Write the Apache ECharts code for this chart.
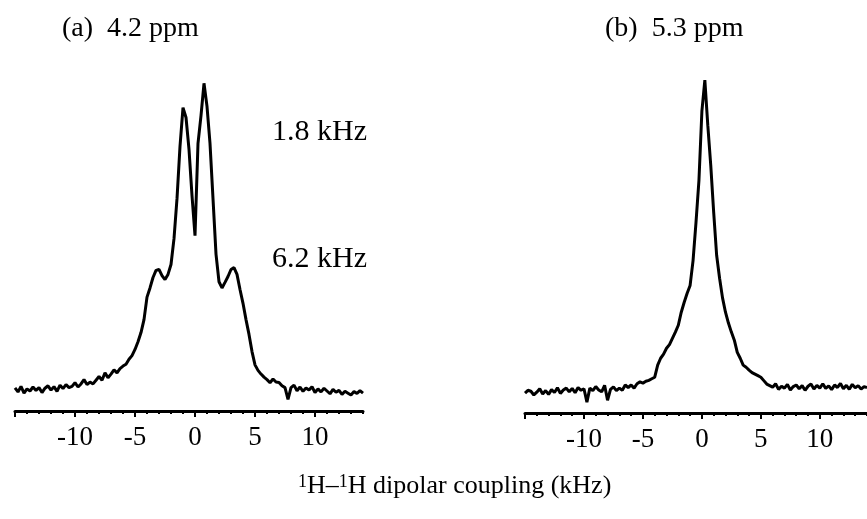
<!DOCTYPE html>
<html>
<head>
<meta charset="utf-8">
<script src="https://cdn.jsdelivr.net/npm/echarts@6/dist/echarts.min.js"></script>
<style>
  html, body { margin: 0; padding: 0; background: #fff; }
  #chart { width: 867px; height: 519px; }
</style>
</head>
<body>
<div id="chart"></div>
<script>
// 1H-1H dipolar coupling spectra, frequency in kHz, intensity normalised to 100
const freqStart = -15;      // kHz, first sample
const freqStep = 0.25;      // kHz between samples

// (a) 4.2 ppm: doublet (1.8 kHz) on top of a broad doublet (6.2 kHz)
const spectrumA = [
  0.5, -0.8, 1.0, -1.2,
  0.2, -0.5, 0.8, -0.3,
  0.6, -1.0, 0.4, 1.2,
  -0.2, 0.9, -0.6, 1.4,
  0.3, 1.6, 0.6, 1.0,
  2.2, 0.8, 1.8, 3.2,
  1.6, 2.4, 1.8, 3.0,
  4.2, 3.0, 5.4, 3.8,
  5.0, 6.4, 5.4, 6.8,
  7.6, 8.2, 9.8, 11.0,
  13.0, 15.5, 18.5, 22.7,
  30.0, 33.0, 36.4, 38.7,
  39.0, 37.0, 35.7, 37.4,
  40.6, 49.0, 62.0, 79.0,
  91.6, 88.4, 78.0, 63.0,
  50.0, 80.0, 89.0, 99.5,
  92.0, 80.0, 62.0, 44.0,
  35.0, 33.0, 34.8, 36.7,
  39.0, 39.6, 37.4, 32.5,
  28.0, 22.7, 17.9, 12.3,
  8.0, 6.2, 5.0, 4.0,
  3.2, 2.2, 3.4, 2.4,
  2.3, 1.2, 0.6, -3.2,
  0.6, 1.4, -0.4, 0.8,
  -0.6, 0.5, -0.2, 0.9,
  -1.0, 0.2, -0.8, 0.4,
  -0.5, -1.4, 0.0, -0.9,
  -0.3, -1.6, -0.6, -1.2,
  -1.8, -0.7, -1.3, -0.4,
  -1.2
];

// (b) 5.3 ppm: single narrow line
const spectrumB = [
  -0.6, 0.3, 0.0, -1.2,
  -0.3, 0.8, -0.9, 0.2,
  -1.0, 0.5, -0.4, 1.1,
  -0.7, 0.4, 1.0, -0.2,
  0.9, -0.5, 1.2, 0.3,
  0.8, -3.5, 1.0, 0.2,
  1.5, 0.4, -0.2, 1.9,
  -2.9, 0.6, 1.4, 0.2,
  1.0, 0.3, 2.0, 1.2,
  2.0, 1.0, 2.4, 3.0,
  2.6, 3.2, 3.5, 4.0,
  4.5, 8.4, 10.6, 11.9,
  13.8, 15.0, 17.0, 19.0,
  21.2, 25.4, 28.6, 31.5,
  34.0, 42.0, 54.3, 67.8,
  90.0, 100.0, 85.5, 72.7,
  57.5, 43.7, 36.3, 30.0,
  25.4, 21.9, 19.0, 16.4,
  12.5, 10.6, 8.4, 7.7,
  6.8, 6.0, 5.5, 5.0,
  4.5, 3.4, 2.3, 1.8,
  1.3, 2.4, 0.6, 1.6,
  1.0, 2.2, 0.4, 1.5,
  2.0, 0.8, 1.8, 0.3,
  1.6, 2.3, 0.7, 1.9,
  1.0, 2.4, 0.9, 1.7,
  0.5, 2.0, 1.2, 2.5,
  0.8, 1.9, 0.6, 2.2,
  1.1, 1.8, 0.7, 1.5,
  1.2
];

const tickLabels = [-10, -5, 0, 5, 10];
const majorTicks = [-15, -10, -5, 0, 5, 10];
const minorTicks = [-15, -14, -13, -12, -11, -10, -9, -8, -7, -6, -5, -4, -3, -2, -1,
                    0, 1, 2, 3, 4, 5, 6, 7, 8, 9, 10, 11, 12, 13, 14];
const panelTitles = ['(a)  4.2 ppm', '(b)  5.3 ppm'];
const splittingLabels = ['1.8 kHz', '6.2 kHz'];

const serif = '"Liberation Serif", "Times New Roman", serif';

function toPairs(values) {
  return values.map((v, i) => [freqStart + i * freqStep, v]);
}

function majorAxis(gridIndex) {
  return {
    type: 'value', gridIndex, position: 'bottom', min: -15, max: 14,
    axisLine: { show: true, onZero: false, lineStyle: { color: '#000', width: 3 } },
    axisTick: { show: true, customValues: majorTicks, length: 6, lineStyle: { color: '#000', width: 2 } },
    axisLabel: {
      show: true, customValues: tickLabels, margin: 13,
      color: '#000', fontSize: 27, fontFamily: serif
    },
    splitLine: { show: false }
  };
}

function minorAxis(gridIndex) {
  return {
    type: 'value', gridIndex, position: 'bottom', min: -15, max: 14,
    axisLine: { show: false, onZero: false },
    axisTick: { show: true, customValues: minorTicks, length: 3, lineStyle: { color: '#000', width: 2 } },
    axisLabel: { show: false },
    splitLine: { show: false }
  };
}

function hiddenY(gridIndex) {
  return { type: 'value', gridIndex, min: -7, max: 110, show: false };
}

const lineStyle = { color: '#000', width: 3 };

const option = {
  animation: false,
  backgroundColor: '#fff',
  grid: [
    { left: 15, top: 51, width: 348, height: 360 },
    { left: 525, top: 49, width: 348, height: 364 }
  ],
  xAxis: [majorAxis(0), minorAxis(0), majorAxis(1), minorAxis(1)],
  yAxis: [hiddenY(0), hiddenY(1)],
  series: [
    {
      type: 'line', xAxisIndex: 0, yAxisIndex: 0, data: toPairs(spectrumA),
      showSymbol: false, lineStyle, clip: false
    },
    {
      type: 'line', xAxisIndex: 2, yAxisIndex: 1, data: toPairs(spectrumB),
      showSymbol: false, lineStyle, clip: true
    }
  ],
  graphic: [
    { type: 'text', left: 62, top: 15, style: { text: panelTitles[0], font: '28px ' + serif, fill: '#000' } },
    { type: 'text', left: 605, top: 15, style: { text: panelTitles[1], font: '28px ' + serif, fill: '#000' } },
    { type: 'text', left: 272, top: 117, style: { text: splittingLabels[0], font: '30px ' + serif, fill: '#000' } },
    { type: 'text', left: 272, top: 244, style: { text: splittingLabels[1], font: '30px ' + serif, fill: '#000' } },
    {
      type: 'text', left: 298, top: 473,
      style: {
        text: '{sup|1}{main|H–}{sup|1}{main|H dipolar coupling (kHz)}',
        rich: {
          main: { fontSize: 26, fontFamily: serif, fill: '#000', color: '#000' },
          sup: { fontSize: 18, fontFamily: serif, fill: '#000', color: '#000', padding: [0, 0, 9, 0] }
        }
      }
    }
  ]
};

const chart = echarts.init(document.getElementById('chart'), null, { renderer: 'canvas' });
chart.setOption(option);
</script>
</body>
</html>
